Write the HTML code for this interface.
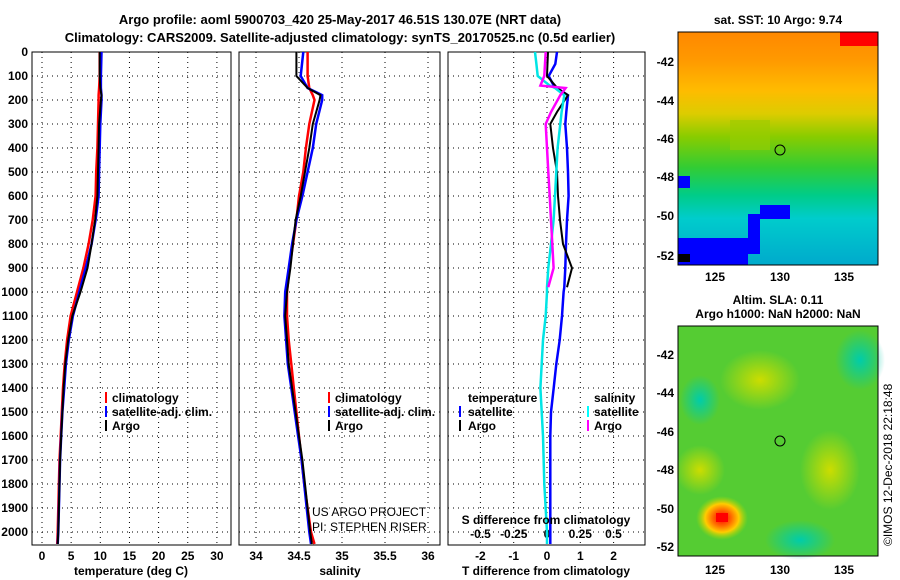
<!DOCTYPE html>
<html><head><meta charset="utf-8"><style>
body{margin:0;background:#fff}
svg{display:block;font-family:"Liberation Sans",sans-serif;font-weight:bold;font-size:12px}
</style></head><body>
<svg id="c" width="900" height="580" xmlns="http://www.w3.org/2000/svg">
<defs>
<linearGradient id="sst" x1="0" y1="0" x2="0" y2="1">
<stop offset="0" stop-color="#ff8800"/><stop offset="0.12" stop-color="#ff9900"/>
<stop offset="0.25" stop-color="#ffbb00"/><stop offset="0.35" stop-color="#ddcc00"/>
<stop offset="0.45" stop-color="#88cc00"/><stop offset="0.58" stop-color="#33cc33"/>
<stop offset="0.7" stop-color="#00cc88"/><stop offset="0.8" stop-color="#00cccc"/>
<stop offset="0.9" stop-color="#00bbcc"/><stop offset="1" stop-color="#00aacc"/>
</linearGradient>
<radialGradient id="hot"><stop offset="0" stop-color="#ff0000"/><stop offset="0.35" stop-color="#ff6600"/><stop offset="0.65" stop-color="#ffcc00"/><stop offset="1" stop-color="#aadd00" stop-opacity="0"/></radialGradient>
<radialGradient id="yb"><stop offset="0" stop-color="#ccdd00"/><stop offset="1" stop-color="#ccdd00" stop-opacity="0"/></radialGradient>
<radialGradient id="cb"><stop offset="0" stop-color="#00ccaa"/><stop offset="1" stop-color="#00ccaa" stop-opacity="0"/></radialGradient>
</defs>
</svg>
<script>
// ---- data ----
const depths=[0,100,150,180,200,300,400,500,600,700,800,900,1000,1100,1200,1300,1400,1500,1600,1700,1800,1900,2000,2050];
const tempClim=[9.9,9.9,9.8,9.7,9.7,9.6,9.5,9.3,9.2,8.7,8.0,7.1,6.0,4.9,4.3,3.9,3.6,3.4,3.2,3.0,2.9,2.8,2.7,2.6];
const tempSat=[10.2,10.1,10.1,10.2,10.2,10.0,9.9,9.8,9.7,9.2,8.5,7.5,6.4,5.3,4.6,4.1,3.8,3.5,3.3,3.1,3.0,2.9,2.8,2.7];
const tempArgo=[9.9,9.9,10.0,10.2,10.1,9.8,9.7,9.6,9.5,9.1,8.5,7.8,6.6,5.2,4.5,4.0,3.7,3.5,3.3,3.1,3.0,2.9,2.8,2.7];
const salClim=[34.6,34.6,34.62,34.66,34.68,34.62,34.58,34.55,34.5,34.47,34.43,34.39,34.36,34.36,34.38,34.41,34.44,34.47,34.5,34.53,34.56,34.6,34.64,34.68];
const salSat=[34.55,34.52,34.6,34.77,34.77,34.7,34.66,34.6,34.54,34.47,34.42,34.38,34.34,34.33,34.35,34.37,34.41,34.45,34.49,34.53,34.56,34.59,34.62,34.64];
const salArgo=[34.47,34.47,34.6,34.75,34.74,34.66,34.62,34.57,34.52,34.46,34.43,34.4,34.36,34.34,34.36,34.38,34.42,34.46,34.5,34.54,34.57,34.6,34.63,34.65];
const diffDepths=[0,50,100,140,150,180,250,300,400,500,600,700,800,900,980,1000,1100,1200,1300,1400,1500,1600,1800,2000,2050];
const dTsat=[0.3,0.25,0.05,0.2,0.3,0.63,0.58,0.55,0.6,0.63,0.65,0.6,0.57,0.55,0.52,0.5,0.45,0.38,0.28,0.2,0.12,0.1,0.1,0.1,0.1];
const dSsat=[-0.09,-0.08,-0.07,0.02,0.06,0.13,0.11,0.1,0.08,0.07,0.06,0.05,0.03,0.01,0,0,-0.01,-0.03,-0.04,-0.05,-0.04,-0.03,-0.02,0,0];
const argoDiffDepths=[0,100,140,150,180,250,300,400,500,600,700,800,900,980];
const dTargo=[0.03,0,0.25,0.3,0.63,0.3,0.1,0.18,0.3,0.33,0.39,0.48,0.75,0.6];
const dSargo=[-0.01,-0.02,-0.05,0.14,0.1,0.03,-0.01,0,0.01,0.02,0.03,0.04,0.05,0.01];
const depthTicks=[0,100,200,300,400,500,600,700,800,900,1000,1100,1200,1300,1400,1500,1600,1700,1800,1900,2000];
const tempTicks=[0,5,10,15,20,25,30];
const salTicks=[34,34.5,35,35.5,36];
const tdTicks=[-2,-1,0,1,2];
const sdTicks=[-0.5,-0.25,0,0.25,0.5];
const sdTickLabels=["-0.5","-0.25","0","0.25","0.5"];

const S=document.getElementById('c');
const NS="http://www.w3.org/2000/svg";
function mk(tag,at,txt,par){const e=document.createElementNS(NS,tag);for(const k in at)e.setAttribute(k,at[k]);if(txt!=null)e.textContent=txt;(par||S).appendChild(e);return e;}
const Y0=52,Y1=545;
const yD=d=>Y0+d*0.24;
const panels=[
 {x0:32,x1:231,f:v=>42+v*5.83,ticks:tempTicks,name:'temperature-panel'},
 {x0:239,x1:440,f:v=>256+(v-34)*86,ticks:salTicks,name:'salinity-panel'},
 {x0:448,x1:645,f:v=>547+v*33.3,ticks:tdTicks,name:'difference-panel'}
];
const sdX=v=>547+v*133;
panels.forEach((p,i)=>{
 const g=mk('g',{});
 
 
 depthTicks.forEach(d=>{mk('line',{x1:p.x0,x2:p.x1,y1:yD(d),y2:yD(d),stroke:'#000','stroke-dasharray':'1,4'},null,g);});
 p.ticks.forEach(t=>{mk('line',{x1:p.f(t),x2:p.f(t),y1:Y0,y2:Y1,stroke:'#000','stroke-dasharray':'1,4'},null,g);
   mk('text',{x:p.f(t),y:560,'text-anchor':'middle'},String(t),g);});
 mk('rect',{x:p.x0,y:Y0,width:p.x1-p.x0,height:Y1-Y0,fill:'none',stroke:'#000','stroke-width':1},null,g);
});
// y tick labels
const yl=mk('g',{});


depthTicks.forEach(d=>mk('text',{x:28,y:yD(d)+4,'text-anchor':'end'},String(d),yl));
// S diff ticks in panel 3
sdTicks.forEach((t,i)=>mk('text',{x:sdX(t),y:538,'text-anchor':'middle'},sdTickLabels[i]));
function line(ds,vs,f,col,name,w){
 const pts=ds.map((d,i)=>f(vs[i]).toFixed(1)+','+yD(d).toFixed(1)).join(' ');
 const e=mk('polyline',{points:pts,fill:'none',stroke:col,'stroke-width':w||2.5});
 
 
}
const P=panels;
line(depths,tempClim,P[0].f,'#ff0000','temp-climatology-line');
line(depths,tempSat,P[0].f,'#0000ff','temp-satellite-line');
line(depths,tempArgo,P[0].f,'#000000','temp-argo-line',2);
line(depths,salClim,P[1].f,'#ff0000','sal-climatology-line');
line(depths,salSat,P[1].f,'#0000ff','sal-satellite-line');
line(depths,salArgo,P[1].f,'#000000','sal-argo-line',2);
line(diffDepths,dTsat,P[2].f,'#0000ff','tdiff-satellite-line');
line(argoDiffDepths,dTargo,P[2].f,'#000000','tdiff-argo-line',2);
line(diffDepths,dSsat,sdX,'#00e5e5','sdiff-satellite-line');
line(argoDiffDepths,dSargo,sdX,'#ff00ff','sdiff-argo-line');
</script>
<svg width="900" height="580" style="position:absolute;left:0;top:0" xmlns="http://www.w3.org/2000/svg">
<g font-family="Liberation Sans, sans-serif" font-weight="bold" font-size="12">
<text x="340" y="24" text-anchor="middle" font-size="13">Argo profile: aoml 5900703_420 25-May-2017 46.51S 130.07E (NRT data)</text>
<text x="340" y="42" text-anchor="middle" font-size="13">Climatology: CARS2009. Satellite-adjusted climatology: synTS_20170525.nc (0.5d earlier)</text>
<text x="131" y="575" text-anchor="middle">temperature (deg C)</text>
<text x="340" y="575" text-anchor="middle">salinity</text>
<text x="546" y="575" text-anchor="middle">T difference from climatology</text>
<text x="546" y="524" text-anchor="middle">S difference from climatology</text>
<g>
<rect x="105" y="392" width="2" height="11" fill="#f00"/><text x="112" y="402">climatology</text>
<rect x="105" y="406" width="2" height="11" fill="#00f"/><text x="112" y="416">satellite-adj. clim.</text>
<rect x="105" y="420" width="2" height="11" fill="#000"/><text x="112" y="430">Argo</text>
</g>
<g>
<rect x="328" y="392" width="2" height="11" fill="#f00"/><text x="335" y="402">climatology</text>
<rect x="328" y="406" width="2" height="11" fill="#00f"/><text x="335" y="416">satellite-adj. clim.</text>
<rect x="328" y="420" width="2" height="11" fill="#000"/><text x="335" y="430">Argo</text>
</g>
<g>
<text x="468" y="402">temperature</text>
<rect x="459" y="406" width="2" height="11" fill="#00f"/><text x="468" y="416">satellite</text>
<rect x="459" y="420" width="2" height="11" fill="#000"/><text x="468" y="430">Argo</text>
<text x="594" y="402">salinity</text>
<rect x="587" y="406" width="2" height="11" fill="#0ff"/><text x="594" y="416">satellite</text>
<rect x="587" y="420" width="2" height="11" fill="#f0f"/><text x="594" y="430">Argo</text>
</g>
<text x="312" y="516" font-weight="normal">US ARGO PROJECT</text>
<text x="312" y="531" font-weight="normal">PI: STEPHEN RISER</text>

<!-- SST map -->
<g>
<text x="778" y="24" text-anchor="middle">sat. SST: 10 Argo: 9.74</text>
<rect x="678" y="32" width="200" height="233" fill="url(#sst)"/>
<rect x="840" y="32" width="38" height="14" fill="#ff0000"/>
<rect x="678" y="176" width="12" height="12" fill="#0000ff"/>
<rect x="678" y="238" width="70" height="27" fill="#0000ff"/>
<rect x="748" y="214" width="12" height="40" fill="#0000ff"/>
<rect x="760" y="205" width="30" height="14" fill="#0000ff"/>
<rect x="678" y="254" width="12" height="8" fill="#000"/>
<rect x="730" y="120" width="40" height="30" fill="#99cc00" opacity="0.6"/>
<circle cx="780" cy="150" r="5" fill="none" stroke="#000" stroke-width="1"/>
<rect x="678" y="32" width="200" height="233" fill="none" stroke="#000"/>
<text x="674" y="66" text-anchor="end">-42</text><text x="674" y="105" text-anchor="end">-44</text>
<text x="674" y="143" text-anchor="end">-46</text><text x="674" y="181" text-anchor="end">-48</text>
<text x="674" y="220" text-anchor="end">-50</text><text x="674" y="260" text-anchor="end">-52</text>
<text x="715" y="281" text-anchor="middle">125</text><text x="780" y="281" text-anchor="middle">130</text><text x="844" y="281" text-anchor="middle">135</text>
</g>
<!-- SLA map -->
<g>
<text x="778" y="304" text-anchor="middle">Altim. SLA: 0.11</text>
<text x="778" y="318" text-anchor="middle">Argo h1000: NaN h2000: NaN</text>
<rect x="678" y="326" width="200" height="230" fill="#55cc33"/>
<ellipse cx="760" cy="380" rx="40" ry="30" fill="url(#yb)"/>
<ellipse cx="830" cy="470" rx="30" ry="40" fill="url(#yb)"/>
<ellipse cx="700" cy="470" rx="25" ry="25" fill="url(#yb)"/>
<ellipse cx="860" cy="360" rx="25" ry="30" fill="url(#cb)"/>
<ellipse cx="800" cy="540" rx="35" ry="20" fill="url(#cb)"/>
<ellipse cx="700" cy="400" rx="20" ry="25" fill="url(#cb)"/>
<ellipse cx="722" cy="518" rx="26" ry="22" fill="url(#hot)"/>
<rect x="716" y="513" width="12" height="9" fill="#ff0000"/>
<circle cx="780" cy="441" r="5" fill="none" stroke="#000"/>
<rect x="678" y="326" width="200" height="230" fill="none" stroke="#000"/>
<text x="674" y="359" text-anchor="end">-42</text><text x="674" y="397" text-anchor="end">-44</text>
<text x="674" y="436" text-anchor="end">-46</text><text x="674" y="474" text-anchor="end">-48</text>
<text x="674" y="513" text-anchor="end">-50</text><text x="674" y="551" text-anchor="end">-52</text>
<text x="715" y="574" text-anchor="middle">125</text><text x="780" y="574" text-anchor="middle">130</text><text x="844" y="574" text-anchor="middle">135</text>
</g>
<text transform="translate(892,546) rotate(-90)" font-weight="normal">©IMOS 12-Dec-2018 22:18:48</text>
</g>
</svg>
</body></html>
